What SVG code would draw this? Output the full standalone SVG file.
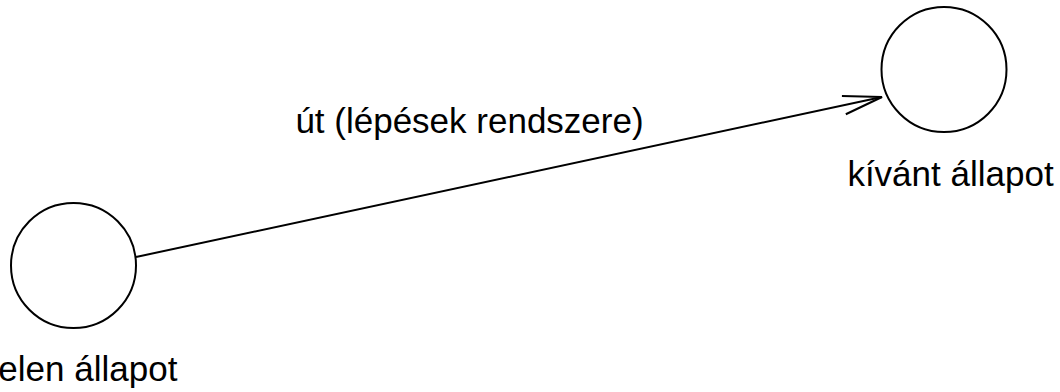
<svg xmlns="http://www.w3.org/2000/svg" width="1060" height="392" viewBox="0 0 1060 392">
<style>
.node{fill:#fff;stroke:#000;stroke-width:2}
.lbl{font-family:"Liberation Sans",Arial,sans-serif;font-size:35px;fill:#000}
.edge{fill:none;stroke:#000;stroke-width:2}
</style>
<defs>
<marker id="open" viewBox="0 0 44 24" refX="42" refY="12" markerWidth="44" markerHeight="24" markerUnits="userSpaceOnUse" orient="auto">
<path d="M3,2.7 L42,12 L3,21.3" fill="none" stroke="#000" stroke-width="2"/>
</marker>
</defs>
<rect width="1060" height="392" fill="#fff"/>
<g id="connectors">
<line class="edge" x1="136" y1="257" x2="882" y2="97" marker-end="url(#open)"/>
<text class="lbl" x="469.5" y="132.5" text-anchor="middle">út (lépések rendszere)</text>
</g>
<g id="jelen">
<circle class="node" cx="73.5" cy="265.5" r="62.5"/>
<text class="lbl" x="84" y="380.5" text-anchor="middle">jelen állapot</text>
</g>
<g id="kivant">
<circle class="node" cx="944" cy="69.5" r="62.5"/>
<text class="lbl" x="950.5" y="185.5" text-anchor="middle">kívánt állapot</text>
</g>
</svg>
